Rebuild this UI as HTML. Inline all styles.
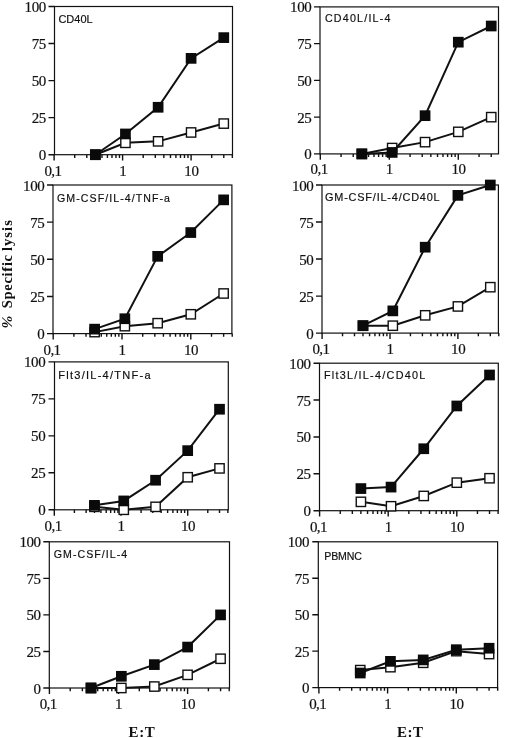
<!DOCTYPE html>
<html lang="en"><head><meta charset="utf-8"><title>Specific lysis vs E:T</title>
<style>
html,body{margin:0;padding:0;background:#fff}
body{width:520px;height:738px;overflow:hidden}
svg{display:block;filter:grayscale(1) blur(0.35px)}
</style></head><body>
<svg width="520" height="738" viewBox="0 0 520 738">
<rect width="520" height="738" fill="#fff"/>
<g>
<rect x="54.5" y="6.5" width="178" height="148.2" fill="none" stroke="#111" stroke-width="1.2"/>
<path d="M48.5 154.7H54.5M48.5 117.65H54.5M48.5 80.6H54.5M48.5 43.55H54.5M48.5 6.5H54.5M54.1 154.7V160.6M74.72 154.7V157.9M86.78 154.7V157.9M95.34 154.7V157.9M101.98 154.7V157.9M107.4 154.7V157.9M111.99 154.7V157.9M115.96 154.7V157.9M119.47 154.7V157.9M122.6 154.7V160.6M143.22 154.7V157.9M155.28 154.7V157.9M163.84 154.7V157.9M170.48 154.7V157.9M175.9 154.7V157.9M180.49 154.7V157.9M184.46 154.7V157.9M187.97 154.7V157.9M191.1 154.7V160.6M211.72 154.7V157.9M223.78 154.7V157.9M232.34 154.7V157.9" stroke="#111" stroke-width="1.4" fill="none"/>
<g font-family="'Liberation Serif','Times New Roman',serif" font-size="15" letter-spacing="-0.4" fill="#111" stroke="#111" stroke-width="0.2">
<text x="45.9" y="160.2" text-anchor="end">0</text>
<text x="45.9" y="123.15" text-anchor="end">25</text>
<text x="45.9" y="86.1" text-anchor="end">50</text>
<text x="45.9" y="49.05" text-anchor="end">75</text>
<text x="45.9" y="12" text-anchor="end">100</text>
<text x="52.9" y="176.1" text-anchor="middle" letter-spacing="-0.6">0,1</text>
<text x="122.9" y="176.1" text-anchor="middle" letter-spacing="0">1</text>
<text x="191.4" y="176.1" text-anchor="middle" letter-spacing="-0.4">10</text>
</g>
<text x="58.4" y="23.2" font-family="'Liberation Sans',Arial,sans-serif" font-size="11" fill="#111" stroke="#111" stroke-width="0.18" textLength="34.3" lengthAdjust="spacing">CD40L</text>
<polyline points="95.34,154.7 125.44,142.84 158.12,141.36 191.1,132.47 223.78,123.58" fill="none" stroke="#111" stroke-width="2.0"/>
<rect x="90.69" y="150.05" width="9.3" height="9.3" fill="#fff" stroke="#111" stroke-width="1.4"/>
<rect x="120.79" y="138.19" width="9.3" height="9.3" fill="#fff" stroke="#111" stroke-width="1.4"/>
<rect x="153.47" y="136.71" width="9.3" height="9.3" fill="#fff" stroke="#111" stroke-width="1.4"/>
<rect x="186.45" y="127.82" width="9.3" height="9.3" fill="#fff" stroke="#111" stroke-width="1.4"/>
<rect x="219.13" y="118.93" width="9.3" height="9.3" fill="#fff" stroke="#111" stroke-width="1.4"/>
<polyline points="95.34,154.7 125.44,133.95 158.12,107.28 191.1,58.37 223.78,37.62" fill="none" stroke="#111" stroke-width="2.0"/>
<rect x="89.99" y="149.35" width="10.7" height="10.7" fill="#0a0a0a"/>
<rect x="120.09" y="128.6" width="10.7" height="10.7" fill="#0a0a0a"/>
<rect x="152.77" y="101.93" width="10.7" height="10.7" fill="#0a0a0a"/>
<rect x="185.75" y="53.02" width="10.7" height="10.7" fill="#0a0a0a"/>
<rect x="218.43" y="32.27" width="10.7" height="10.7" fill="#0a0a0a"/>
</g>
<g>
<rect x="320" y="6.9" width="178.5" height="147" fill="none" stroke="#111" stroke-width="1.2"/>
<path d="M314 153.9H320M314 117.15H320M314 80.4H320M314 43.65H320M314 6.9H320M320.3 153.9V159.8M341.07 153.9V157.1M353.22 153.9V157.1M361.84 153.9V157.1M368.53 153.9V157.1M373.99 153.9V157.1M378.61 153.9V157.1M382.61 153.9V157.1M386.14 153.9V157.1M389.3 153.9V159.8M410.07 153.9V157.1M422.22 153.9V157.1M430.84 153.9V157.1M437.53 153.9V157.1M442.99 153.9V157.1M447.61 153.9V157.1M451.61 153.9V157.1M455.14 153.9V157.1M458.3 153.9V159.8M479.07 153.9V157.1M491.22 153.9V157.1" stroke="#111" stroke-width="1.4" fill="none"/>
<g font-family="'Liberation Serif','Times New Roman',serif" font-size="15" letter-spacing="-0.4" fill="#111" stroke="#111" stroke-width="0.2">
<text x="311.4" y="159.4" text-anchor="end">0</text>
<text x="311.4" y="122.65" text-anchor="end">25</text>
<text x="311.4" y="85.9" text-anchor="end">50</text>
<text x="311.4" y="49.15" text-anchor="end">75</text>
<text x="311.4" y="12.4" text-anchor="end">100</text>
<text x="319.1" y="174.1" text-anchor="middle" letter-spacing="-0.6">0,1</text>
<text x="389.6" y="174.1" text-anchor="middle" letter-spacing="0">1</text>
<text x="458.6" y="174.1" text-anchor="middle" letter-spacing="-0.4">10</text>
</g>
<text x="324.9" y="22.3" font-family="'Liberation Sans',Arial,sans-serif" font-size="10.7" fill="#111" stroke="#111" stroke-width="0.18" textLength="65.6" lengthAdjust="spacing">CD40L/IL-4</text>
<polyline points="361.84,153.9 392.16,148.02 425.08,142.14 458.3,131.85 491.22,117.15" fill="none" stroke="#111" stroke-width="2.0"/>
<rect x="357.19" y="149.25" width="9.3" height="9.3" fill="#fff" stroke="#111" stroke-width="1.4"/>
<rect x="387.51" y="143.37" width="9.3" height="9.3" fill="#fff" stroke="#111" stroke-width="1.4"/>
<rect x="420.43" y="137.49" width="9.3" height="9.3" fill="#fff" stroke="#111" stroke-width="1.4"/>
<rect x="453.65" y="127.2" width="9.3" height="9.3" fill="#fff" stroke="#111" stroke-width="1.4"/>
<rect x="486.57" y="112.5" width="9.3" height="9.3" fill="#fff" stroke="#111" stroke-width="1.4"/>
<polyline points="361.84,153.9 392.16,152.43 425.08,115.68 458.3,42.18 491.22,26.01" fill="none" stroke="#111" stroke-width="2.0"/>
<rect x="356.49" y="148.55" width="10.7" height="10.7" fill="#0a0a0a"/>
<rect x="386.81" y="147.08" width="10.7" height="10.7" fill="#0a0a0a"/>
<rect x="419.73" y="110.33" width="10.7" height="10.7" fill="#0a0a0a"/>
<rect x="452.95" y="36.83" width="10.7" height="10.7" fill="#0a0a0a"/>
<rect x="485.87" y="20.66" width="10.7" height="10.7" fill="#0a0a0a"/>
</g>
<g>
<rect x="53" y="185" width="178.9" height="148.6" fill="none" stroke="#111" stroke-width="1.2"/>
<path d="M47 333.6H53M47 296.45H53M47 259.3H53M47 222.15H53M47 185H53M53.2 333.6V339.5M73.91 333.6V336.8M86.03 333.6V336.8M94.62 333.6V336.8M101.29 333.6V336.8M106.74 333.6V336.8M111.34 333.6V336.8M115.33 333.6V336.8M118.85 333.6V336.8M122 333.6V339.5M142.71 333.6V336.8M154.83 333.6V336.8M163.42 333.6V336.8M170.09 333.6V336.8M175.54 333.6V336.8M180.14 333.6V336.8M184.13 333.6V336.8M187.65 333.6V336.8M190.8 333.6V339.5M211.51 333.6V336.8M223.63 333.6V336.8M232.22 333.6V336.8" stroke="#111" stroke-width="1.4" fill="none"/>
<g font-family="'Liberation Serif','Times New Roman',serif" font-size="15" letter-spacing="-0.4" fill="#111" stroke="#111" stroke-width="0.2">
<text x="44.4" y="339.1" text-anchor="end">0</text>
<text x="44.4" y="301.95" text-anchor="end">25</text>
<text x="44.4" y="264.8" text-anchor="end">50</text>
<text x="44.4" y="227.65" text-anchor="end">75</text>
<text x="44.4" y="190.5" text-anchor="end">100</text>
<text x="52" y="354.9" text-anchor="middle" letter-spacing="-0.6">0,1</text>
<text x="122.3" y="354.9" text-anchor="middle" letter-spacing="0">1</text>
<text x="191.1" y="354.9" text-anchor="middle" letter-spacing="-0.4">10</text>
</g>
<text x="57" y="201.8" font-family="'Liberation Sans',Arial,sans-serif" font-size="10.6" fill="#111" stroke="#111" stroke-width="0.18" textLength="113" lengthAdjust="spacing">GM-CSF/IL-4/TNF-a</text>
<polyline points="94.62,332.11 124.85,326.17 157.67,323.2 190.8,314.28 223.63,293.48" fill="none" stroke="#111" stroke-width="2.0"/>
<rect x="89.97" y="327.46" width="9.3" height="9.3" fill="#fff" stroke="#111" stroke-width="1.4"/>
<rect x="120.2" y="321.52" width="9.3" height="9.3" fill="#fff" stroke="#111" stroke-width="1.4"/>
<rect x="153.02" y="318.55" width="9.3" height="9.3" fill="#fff" stroke="#111" stroke-width="1.4"/>
<rect x="186.15" y="309.63" width="9.3" height="9.3" fill="#fff" stroke="#111" stroke-width="1.4"/>
<rect x="218.98" y="288.83" width="9.3" height="9.3" fill="#fff" stroke="#111" stroke-width="1.4"/>
<polyline points="94.62,329.14 124.85,318.74 157.67,256.33 190.8,232.55 223.63,199.86" fill="none" stroke="#111" stroke-width="2.0"/>
<rect x="89.27" y="323.79" width="10.7" height="10.7" fill="#0a0a0a"/>
<rect x="119.5" y="313.39" width="10.7" height="10.7" fill="#0a0a0a"/>
<rect x="152.32" y="250.98" width="10.7" height="10.7" fill="#0a0a0a"/>
<rect x="185.45" y="227.2" width="10.7" height="10.7" fill="#0a0a0a"/>
<rect x="218.28" y="194.51" width="10.7" height="10.7" fill="#0a0a0a"/>
</g>
<g>
<rect x="322" y="185" width="176.4" height="148.1" fill="none" stroke="#111" stroke-width="1.2"/>
<path d="M316 333.1H322M316 296.08H322M316 259.05H322M316 222.03H322M316 185H322M322.1 333.1V339M342.54 333.1V336.3M354.5 333.1V336.3M362.98 333.1V336.3M369.56 333.1V336.3M374.94 333.1V336.3M379.48 333.1V336.3M383.42 333.1V336.3M386.89 333.1V336.3M390 333.1V339M410.44 333.1V336.3M422.4 333.1V336.3M430.88 333.1V336.3M437.46 333.1V336.3M442.84 333.1V336.3M447.38 333.1V336.3M451.32 333.1V336.3M454.79 333.1V336.3M457.9 333.1V339M478.34 333.1V336.3M490.3 333.1V336.3M498.78 333.1V336.3" stroke="#111" stroke-width="1.4" fill="none"/>
<g font-family="'Liberation Serif','Times New Roman',serif" font-size="15" letter-spacing="-0.4" fill="#111" stroke="#111" stroke-width="0.2">
<text x="313.4" y="338.6" text-anchor="end">0</text>
<text x="313.4" y="301.58" text-anchor="end">25</text>
<text x="313.4" y="264.55" text-anchor="end">50</text>
<text x="313.4" y="227.53" text-anchor="end">75</text>
<text x="313.4" y="190.5" text-anchor="end">100</text>
<text x="320.9" y="353.5" text-anchor="middle" letter-spacing="-0.6">0,1</text>
<text x="390.3" y="353.5" text-anchor="middle" letter-spacing="0">1</text>
<text x="458.2" y="353.5" text-anchor="middle" letter-spacing="-0.4">10</text>
</g>
<text x="325" y="201.3" font-family="'Liberation Sans',Arial,sans-serif" font-size="10.9" fill="#111" stroke="#111" stroke-width="0.18" textLength="114.6" lengthAdjust="spacing">GM-CSF/IL-4/CD40L</text>
<polyline points="362.98,325.7 392.81,325.7 425.21,315.33 457.9,306.44 490.3,287.19" fill="none" stroke="#111" stroke-width="2.0"/>
<rect x="358.33" y="321.05" width="9.3" height="9.3" fill="#fff" stroke="#111" stroke-width="1.4"/>
<rect x="388.16" y="321.05" width="9.3" height="9.3" fill="#fff" stroke="#111" stroke-width="1.4"/>
<rect x="420.56" y="310.68" width="9.3" height="9.3" fill="#fff" stroke="#111" stroke-width="1.4"/>
<rect x="453.25" y="301.79" width="9.3" height="9.3" fill="#fff" stroke="#111" stroke-width="1.4"/>
<rect x="485.65" y="282.54" width="9.3" height="9.3" fill="#fff" stroke="#111" stroke-width="1.4"/>
<polyline points="362.98,325.7 392.81,310.88 425.21,247.2 457.9,195.37 490.3,185" fill="none" stroke="#111" stroke-width="2.0"/>
<rect x="357.63" y="320.35" width="10.7" height="10.7" fill="#0a0a0a"/>
<rect x="387.46" y="305.53" width="10.7" height="10.7" fill="#0a0a0a"/>
<rect x="419.86" y="241.85" width="10.7" height="10.7" fill="#0a0a0a"/>
<rect x="452.55" y="190.02" width="10.7" height="10.7" fill="#0a0a0a"/>
<rect x="484.95" y="179.65" width="10.7" height="10.7" fill="#0a0a0a"/>
</g>
<g>
<rect x="54.5" y="361.9" width="173.8" height="147.9" fill="none" stroke="#111" stroke-width="1.2"/>
<path d="M48.5 509.8H54.5M48.5 472.82H54.5M48.5 435.85H54.5M48.5 398.88H54.5M48.5 361.9H54.5M54.3 509.8V515.7M74.38 509.8V513M86.12 509.8V513M94.46 509.8V513M100.92 509.8V513M106.2 509.8V513M110.67 509.8V513M114.54 509.8V513M117.95 509.8V513M121 509.8V515.7M141.08 509.8V513M152.82 509.8V513M161.16 509.8V513M167.62 509.8V513M172.9 509.8V513M177.37 509.8V513M181.24 509.8V513M184.65 509.8V513M187.7 509.8V515.7M207.78 509.8V513M219.52 509.8V513M227.86 509.8V513" stroke="#111" stroke-width="1.4" fill="none"/>
<g font-family="'Liberation Serif','Times New Roman',serif" font-size="15" letter-spacing="-0.4" fill="#111" stroke="#111" stroke-width="0.2">
<text x="45.3" y="515.3" text-anchor="end">0</text>
<text x="45.3" y="478.32" text-anchor="end">25</text>
<text x="45.3" y="441.35" text-anchor="end">50</text>
<text x="45.3" y="404.38" text-anchor="end">75</text>
<text x="45.3" y="367.4" text-anchor="end">100</text>
<text x="53.1" y="530.9" text-anchor="middle" letter-spacing="-0.6">0,1</text>
<text x="121.3" y="530.9" text-anchor="middle" letter-spacing="0">1</text>
<text x="188" y="530.9" text-anchor="middle" letter-spacing="-0.4">10</text>
</g>
<text x="58.2" y="378.8" font-family="'Liberation Sans',Arial,sans-serif" font-size="11" fill="#111" stroke="#111" stroke-width="0.18" textLength="92.4" lengthAdjust="spacing">Flt3/IL-4/TNF-a</text>
<polyline points="94.46,506.84 123.76,509.8 155.58,506.84 187.7,477.26 219.52,468.39" fill="none" stroke="#111" stroke-width="2.0"/>
<rect x="89.81" y="502.19" width="9.3" height="9.3" fill="#fff" stroke="#111" stroke-width="1.4"/>
<rect x="119.11" y="505.15" width="9.3" height="9.3" fill="#fff" stroke="#111" stroke-width="1.4"/>
<rect x="150.93" y="502.19" width="9.3" height="9.3" fill="#fff" stroke="#111" stroke-width="1.4"/>
<rect x="183.05" y="472.61" width="9.3" height="9.3" fill="#fff" stroke="#111" stroke-width="1.4"/>
<rect x="214.87" y="463.74" width="9.3" height="9.3" fill="#fff" stroke="#111" stroke-width="1.4"/>
<polyline points="94.46,505.36 123.76,500.93 155.58,480.22 187.7,450.64 219.52,409.23" fill="none" stroke="#111" stroke-width="2.0"/>
<rect x="89.11" y="500.01" width="10.7" height="10.7" fill="#0a0a0a"/>
<rect x="118.41" y="495.58" width="10.7" height="10.7" fill="#0a0a0a"/>
<rect x="150.23" y="474.87" width="10.7" height="10.7" fill="#0a0a0a"/>
<rect x="182.35" y="445.29" width="10.7" height="10.7" fill="#0a0a0a"/>
<rect x="214.17" y="403.88" width="10.7" height="10.7" fill="#0a0a0a"/>
</g>
<g>
<rect x="319.5" y="363.2" width="178.8" height="147.5" fill="none" stroke="#111" stroke-width="1.2"/>
<path d="M313.5 510.7H319.5M313.5 473.82H319.5M313.5 436.95H319.5M313.5 400.07H319.5M313.5 363.2H319.5M319.6 510.7V516.6M340.25 510.7V513.9M352.33 510.7V513.9M360.9 510.7V513.9M367.55 510.7V513.9M372.98 510.7V513.9M377.57 510.7V513.9M381.55 510.7V513.9M385.06 510.7V513.9M388.2 510.7V516.6M408.85 510.7V513.9M420.93 510.7V513.9M429.5 510.7V513.9M436.15 510.7V513.9M441.58 510.7V513.9M446.17 510.7V513.9M450.15 510.7V513.9M453.66 510.7V513.9M456.8 510.7V516.6M477.45 510.7V513.9M489.53 510.7V513.9M498.1 510.7V513.9" stroke="#111" stroke-width="1.4" fill="none"/>
<g font-family="'Liberation Serif','Times New Roman',serif" font-size="15" letter-spacing="-0.4" fill="#111" stroke="#111" stroke-width="0.2">
<text x="310.6" y="516.2" text-anchor="end">0</text>
<text x="310.6" y="479.32" text-anchor="end">25</text>
<text x="310.6" y="442.45" text-anchor="end">50</text>
<text x="310.6" y="405.57" text-anchor="end">75</text>
<text x="310.6" y="368.7" text-anchor="end">100</text>
<text x="318.4" y="531.7" text-anchor="middle" letter-spacing="-0.6">0,1</text>
<text x="388.5" y="531.7" text-anchor="middle" letter-spacing="0">1</text>
<text x="457.1" y="531.7" text-anchor="middle" letter-spacing="-0.4">10</text>
</g>
<text x="323.9" y="379.3" font-family="'Liberation Sans',Arial,sans-serif" font-size="10.8" fill="#111" stroke="#111" stroke-width="0.18" textLength="101.4" lengthAdjust="spacing">Flt3L/IL-4/CD40L</text>
<polyline points="360.9,501.85 391.04,506.27 423.77,495.95 456.8,482.68 489.53,478.25" fill="none" stroke="#111" stroke-width="2.0"/>
<rect x="356.25" y="497.2" width="9.3" height="9.3" fill="#fff" stroke="#111" stroke-width="1.4"/>
<rect x="386.39" y="501.62" width="9.3" height="9.3" fill="#fff" stroke="#111" stroke-width="1.4"/>
<rect x="419.12" y="491.3" width="9.3" height="9.3" fill="#fff" stroke="#111" stroke-width="1.4"/>
<rect x="452.15" y="478.02" width="9.3" height="9.3" fill="#fff" stroke="#111" stroke-width="1.4"/>
<rect x="484.88" y="473.6" width="9.3" height="9.3" fill="#fff" stroke="#111" stroke-width="1.4"/>
<polyline points="360.9,488.57 391.04,487.1 423.77,448.75 456.8,405.98 489.53,375" fill="none" stroke="#111" stroke-width="2.0"/>
<rect x="355.55" y="483.22" width="10.7" height="10.7" fill="#0a0a0a"/>
<rect x="385.69" y="481.75" width="10.7" height="10.7" fill="#0a0a0a"/>
<rect x="418.42" y="443.4" width="10.7" height="10.7" fill="#0a0a0a"/>
<rect x="451.45" y="400.62" width="10.7" height="10.7" fill="#0a0a0a"/>
<rect x="484.18" y="369.65" width="10.7" height="10.7" fill="#0a0a0a"/>
</g>
<g>
<rect x="49.3" y="541.8" width="180.2" height="146.2" fill="none" stroke="#111" stroke-width="1.2"/>
<path d="M43.3 688H49.3M43.3 651.45H49.3M43.3 614.9H49.3M43.3 578.35H49.3M43.3 541.8H49.3M49.4 688V693.9M70.2 688V691.2M82.37 688V691.2M91 688V691.2M97.7 688V691.2M103.17 688V691.2M107.8 688V691.2M111.8 688V691.2M115.34 688V691.2M118.5 688V693.9M139.3 688V691.2M151.47 688V691.2M160.1 688V691.2M166.8 688V691.2M172.27 688V691.2M176.9 688V691.2M180.9 688V691.2M184.44 688V691.2M187.6 688V693.9M208.4 688V691.2M220.57 688V691.2M229.2 688V691.2" stroke="#111" stroke-width="1.4" fill="none"/>
<g font-family="'Liberation Serif','Times New Roman',serif" font-size="15" letter-spacing="-0.4" fill="#111" stroke="#111" stroke-width="0.2">
<text x="40.7" y="693.5" text-anchor="end">0</text>
<text x="40.7" y="656.95" text-anchor="end">25</text>
<text x="40.7" y="620.4" text-anchor="end">50</text>
<text x="40.7" y="583.85" text-anchor="end">75</text>
<text x="40.7" y="547.3" text-anchor="end">100</text>
<text x="48.2" y="708.8" text-anchor="middle" letter-spacing="-0.6">0,1</text>
<text x="118.8" y="708.8" text-anchor="middle" letter-spacing="0">1</text>
<text x="187.9" y="708.8" text-anchor="middle" letter-spacing="-0.4">10</text>
</g>
<text x="53.8" y="557.5" font-family="'Liberation Sans',Arial,sans-serif" font-size="10.6" fill="#111" stroke="#111" stroke-width="0.18" textLength="73.4" lengthAdjust="spacing">GM-CSF/IL-4</text>
<polyline points="91,688 121.36,688 154.33,686.54 187.6,674.84 220.57,658.76" fill="none" stroke="#111" stroke-width="2.0"/>
<rect x="86.35" y="683.35" width="9.3" height="9.3" fill="#fff" stroke="#111" stroke-width="1.4"/>
<rect x="116.71" y="683.35" width="9.3" height="9.3" fill="#fff" stroke="#111" stroke-width="1.4"/>
<rect x="149.68" y="681.89" width="9.3" height="9.3" fill="#fff" stroke="#111" stroke-width="1.4"/>
<rect x="182.95" y="670.19" width="9.3" height="9.3" fill="#fff" stroke="#111" stroke-width="1.4"/>
<rect x="215.92" y="654.11" width="9.3" height="9.3" fill="#fff" stroke="#111" stroke-width="1.4"/>
<polyline points="91,688 121.36,676.3 154.33,664.61 187.6,647.06 220.57,614.9" fill="none" stroke="#111" stroke-width="2.0"/>
<rect x="85.65" y="682.65" width="10.7" height="10.7" fill="#0a0a0a"/>
<rect x="116.01" y="670.95" width="10.7" height="10.7" fill="#0a0a0a"/>
<rect x="148.98" y="659.26" width="10.7" height="10.7" fill="#0a0a0a"/>
<rect x="182.25" y="641.71" width="10.7" height="10.7" fill="#0a0a0a"/>
<rect x="215.22" y="609.55" width="10.7" height="10.7" fill="#0a0a0a"/>
</g>
<g>
<rect x="318.3" y="541.8" width="179.3" height="145.8" fill="none" stroke="#111" stroke-width="1.2"/>
<path d="M312.3 687.6H318.3M312.3 651.15H318.3M312.3 614.7H318.3M312.3 578.25H318.3M312.3 541.8H318.3M318.9 687.6V693.5M339.58 687.6V690.8M351.68 687.6V690.8M360.26 687.6V690.8M366.92 687.6V690.8M372.36 687.6V690.8M376.96 687.6V690.8M380.94 687.6V690.8M384.46 687.6V690.8M387.6 687.6V693.5M408.28 687.6V690.8M420.38 687.6V690.8M428.96 687.6V690.8M435.62 687.6V690.8M441.06 687.6V690.8M445.66 687.6V690.8M449.64 687.6V690.8M453.16 687.6V690.8M456.3 687.6V693.5M476.98 687.6V690.8M489.08 687.6V690.8M497.66 687.6V690.8" stroke="#111" stroke-width="1.4" fill="none"/>
<g font-family="'Liberation Serif','Times New Roman',serif" font-size="15" letter-spacing="-0.4" fill="#111" stroke="#111" stroke-width="0.2">
<text x="309" y="693.1" text-anchor="end">0</text>
<text x="309" y="656.65" text-anchor="end">25</text>
<text x="309" y="620.2" text-anchor="end">50</text>
<text x="309" y="583.75" text-anchor="end">75</text>
<text x="309" y="547.3" text-anchor="end">100</text>
<text x="317.7" y="708.6" text-anchor="middle" letter-spacing="-0.6">0,1</text>
<text x="387.9" y="708.6" text-anchor="middle" letter-spacing="0">1</text>
<text x="456.6" y="708.6" text-anchor="middle" letter-spacing="-0.4">10</text>
</g>
<text x="324.2" y="559.6" font-family="'Liberation Sans',Arial,sans-serif" font-size="10.6" fill="#111" stroke="#111" stroke-width="0.18" textLength="37.8" lengthAdjust="spacing">PBMNC</text>
<polyline points="360.26,670.1 390.44,667.19 423.22,662.81 456.3,651.15 489.08,654.07" fill="none" stroke="#111" stroke-width="2.0"/>
<rect x="355.61" y="665.45" width="9.3" height="9.3" fill="#fff" stroke="#111" stroke-width="1.4"/>
<rect x="385.79" y="662.54" width="9.3" height="9.3" fill="#fff" stroke="#111" stroke-width="1.4"/>
<rect x="418.57" y="658.16" width="9.3" height="9.3" fill="#fff" stroke="#111" stroke-width="1.4"/>
<rect x="451.65" y="646.5" width="9.3" height="9.3" fill="#fff" stroke="#111" stroke-width="1.4"/>
<rect x="484.43" y="649.42" width="9.3" height="9.3" fill="#fff" stroke="#111" stroke-width="1.4"/>
<polyline points="360.26,673.02 390.44,661.36 423.22,659.9 456.3,649.69 489.08,648.23" fill="none" stroke="#111" stroke-width="2.0"/>
<rect x="354.91" y="667.67" width="10.7" height="10.7" fill="#0a0a0a"/>
<rect x="385.09" y="656.01" width="10.7" height="10.7" fill="#0a0a0a"/>
<rect x="417.87" y="654.55" width="10.7" height="10.7" fill="#0a0a0a"/>
<rect x="450.95" y="644.34" width="10.7" height="10.7" fill="#0a0a0a"/>
<rect x="483.73" y="642.88" width="10.7" height="10.7" fill="#0a0a0a"/>
</g>
<g font-family="'Liberation Serif','Times New Roman',serif" font-weight="bold" fill="#111">
<g transform="translate(11.9,0) rotate(-90)" font-size="14.6">
<text x="-328.6" y="0" font-style="italic" font-size="15.4">%</text>
<text x="-308.3" y="0" textLength="53.4" lengthAdjust="spacing">Specific</text>
<text x="-251.1" y="0" textLength="31" lengthAdjust="spacing">lysis</text>
</g>
<text x="128.5" y="736.9" font-size="15" textLength="26.3" lengthAdjust="spacing">E:T</text>
<text x="397.1" y="737.1" font-size="15" textLength="25.9" lengthAdjust="spacing">E:T</text>
</g>
</svg>
</body></html>
